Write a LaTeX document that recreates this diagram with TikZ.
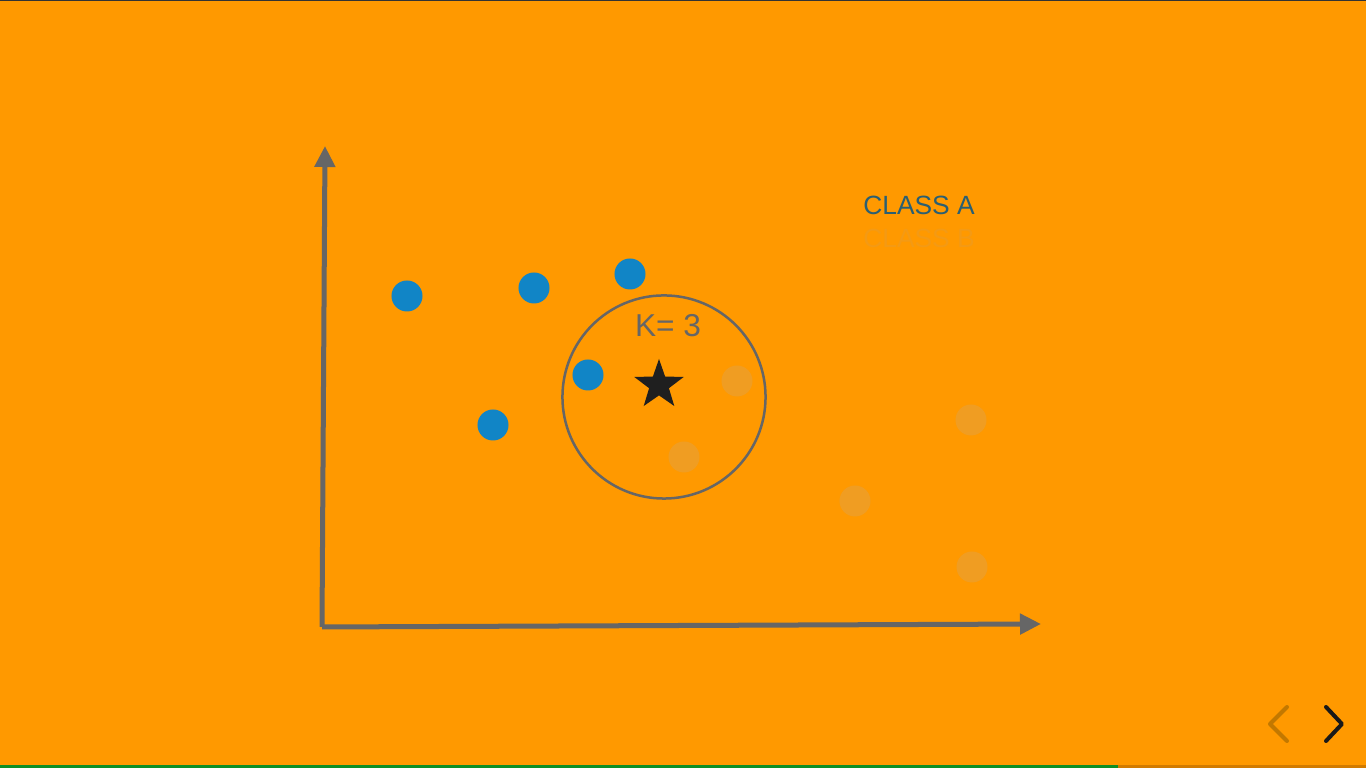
\documentclass[tikz,border=0pt]{standalone}
\usepackage{fontspec}
\setmainfont{Liberation Sans}
\usetikzlibrary{shapes.geometric,arrows.meta}
\definecolor{bgorange}{HTML}{FF9900}
\definecolor{axisgray}{HTML}{666666}
\definecolor{dotblue}{HTML}{1185C6}
\definecolor{dotfade}{HTML}{F09D22}
\definecolor{classA}{HTML}{2A5F72}
\definecolor{classB}{HTML}{F49A14}
\definecolor{navfade}{HTML}{C27800}
\definecolor{barend}{HTML}{D27B00}
\definecolor{bargreen}{HTML}{0E8E25}

\begin{document}
\begin{tikzpicture}[x=0.01cm,y=-0.01cm,
    classdot/.style={circle,fill=dotblue,inner sep=0pt,minimum size=0.31cm},
    fadedot/.style={circle,fill=dotfade,inner sep=0pt,minimum size=0.31cm},
    axisline/.style={axisgray,line width=0.5mm,-{Triangle[length=2.1mm,width=2mm]}},
    navline/.style={line width=0.4mm,line cap=round,line join=round}]
      % Background
      \fill[bgorange] (0,0) rectangle (1366,768);
      \useasboundingbox (0,0) rectangle (1366,768);
      \draw[black!80,line width=0.2mm] (0,0) -- (1366,0);
      \fill[bargreen] (0,765) rectangle (1118,768);
      \fill[barend] (1118,765) rectangle (1366,768);
      
      % Axes
      \coordinate (origin) at (322,627);
      \coordinate (ytop) at (325,146);
      \coordinate (xend) at (1041,624);
      \draw[axisline] (origin) -- (ytop);
      \draw[axisline] (origin) -- (xend);
      
      % Class A points
      \node[classdot] (a1) at (407,296) {};
      \node[classdot] (a2) at (534,288) {};
      \node[classdot] (a3) at (630,274) {};
      \node[classdot] (a4) at (588,375) {};
      \node[classdot] (a5) at (493,425) {};
      
      % Class B points (faded)
      \node[fadedot] (b1) at (737,381) {};
      \node[fadedot] (b2) at (684,457) {};
      \node[fadedot] (b3) at (855,501) {};
      \node[fadedot] (b4) at (971,420) {};
      \node[fadedot] (b5) at (972,567) {};
      
      % Neighbourhood of the query point
      \node[circle,draw=axisgray,line width=0.25mm,minimum size=2.03cm] (kcircle) at (664,397) {};
      \node[star,star points=5,star point ratio=2.5,fill=black!88,inner sep=0pt,minimum size=0.52cm] (query) at (659,385) {};
      \node[axisgray,font=\fontsize{9}{10}\selectfont] (klabel) at (668,326) {K= 3};
      
      % Legend
      \node[classA,font=\fontsize{7.5}{8}\selectfont] (legA) at (919,205) {CLASS A};
      \node[classB,font=\fontsize{7.5}{8}\selectfont] (legB) at (919,238) {CLASS B};
      
      % Navigation
      \draw[navline,navfade] (1287,707) -- (1270,724) -- (1287,741);
      \draw[navline,black!90] (1326,707) -- (1342,724) -- (1326,741);
\end{tikzpicture}
\end{document}
